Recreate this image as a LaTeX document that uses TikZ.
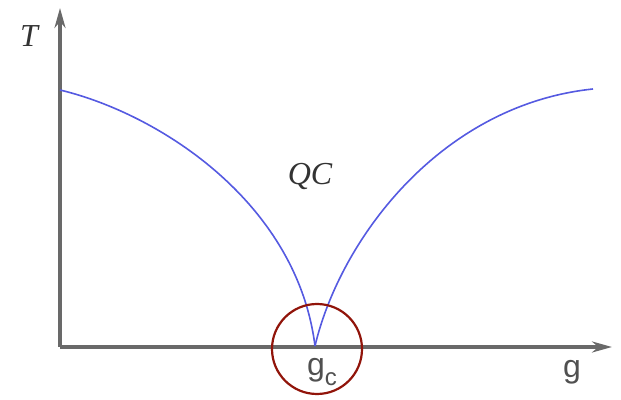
\documentclass[tikz,border=0pt]{standalone}
\usepackage{fontspec}
\setmainfont{Liberation Serif}
\newfontfamily\labelfont{Liberation Sans}
\usetikzlibrary{arrows.meta, positioning}
\definecolor{axisgray}{RGB}{105, 105, 105}
\definecolor{curveblue}{RGB}{85, 90, 225}
\definecolor{ringred}{RGB}{145, 20, 10}
\definecolor{textgray}{RGB}{80, 80, 80}

\begin{document}
\begin{tikzpicture}[
            x=0.5pt, y=-0.5pt,
            axis/.style={-{Stealth[length=10pt, width=5.5pt]}, line width=1.8pt, axisgray},
            crossover/.style={curveblue, line width=0.8pt},
            ring/.style={draw=ringred, line width=1.1pt},
            varlabel/.style={font=\fontsize{16}{18}\selectfont\itshape, text=black!80},
            glabel/.style={font=\labelfont\fontsize{16}{18}\selectfont, text=textgray}
        ]
            \useasboundingbox (0,0) rectangle (621,400);
            \coordinate (origin) at (60,347);
            \coordinate (ytip) at (60,8);
            \coordinate (xtip) at (612,347);
            \coordinate (tleft) at (60,90);
            \coordinate (tright) at (593,89);
            \coordinate (gc) at (315,346);

            \draw[axis] (origin) -- (ytip);
            \draw[axis] (origin) -- (xtip);

            % left and right branch of the crossover line
            \draw[crossover] (tleft) .. controls (160,114) and (297,203) .. (gc);
            \draw[crossover] (gc) .. controls (340,240) and (440,105) .. (tright);

            \node[varlabel] (T) at (29,36) {T};
            \node[varlabel] (QC) at (310,177) {QC};
            \node[glabel] (g) at (572,372) {g};
            \node[glabel] (glc) at (322,372) {g\raisebox{-0.3em}{\fontsize{12}{12}\selectfont c}};

            \draw[ring] (317,349) circle[radius=45];
        \end{tikzpicture}
\end{document}
